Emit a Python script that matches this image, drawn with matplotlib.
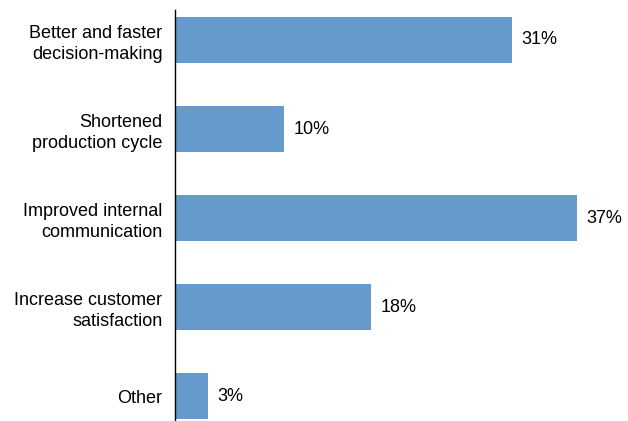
import matplotlib.pyplot as plt

plt.rcParams['font.family'] = ['Liberation Sans', 'DejaVu Sans']

categories = ['Better and faster\ndecision-making',
              'Shortened\nproduction cycle',
              'Improved internal\ncommunication',
              'Increase customer\nsatisfaction',
              'Other']
values = [31, 10, 37, 18, 3]
value_labels = ['31%', '10%', '37%', '18%', '3%']

fig = plt.figure(figsize=(6.28, 4.21), dpi=100)
ax = fig.add_axes([175 / 628, 0, 1 - 175 / 628, 411 / 421])

pos = list(range(len(categories)))
ax.barh(pos, values, height=0.51, color='#6699cc')
for p, v, lab in zip(pos, values, value_labels):
    ax.text(v + 0.9, p, lab, va='center', ha='left', fontsize=13, color='black')

ax.set_ylim(4.28, -0.337)
ax.set_xlim(0, 41.7)
ax.set_yticks(pos)
ax.set_yticklabels(categories, fontsize=13, linespacing=1.3)
ax.tick_params(axis='y', length=0, pad=9)
ax.set_xticks([])
for s in ['top', 'right', 'bottom']:
    ax.spines[s].set_visible(False)
ax.spines['left'].set_linewidth(1)

fig.savefig('out.png', dpi=100)
